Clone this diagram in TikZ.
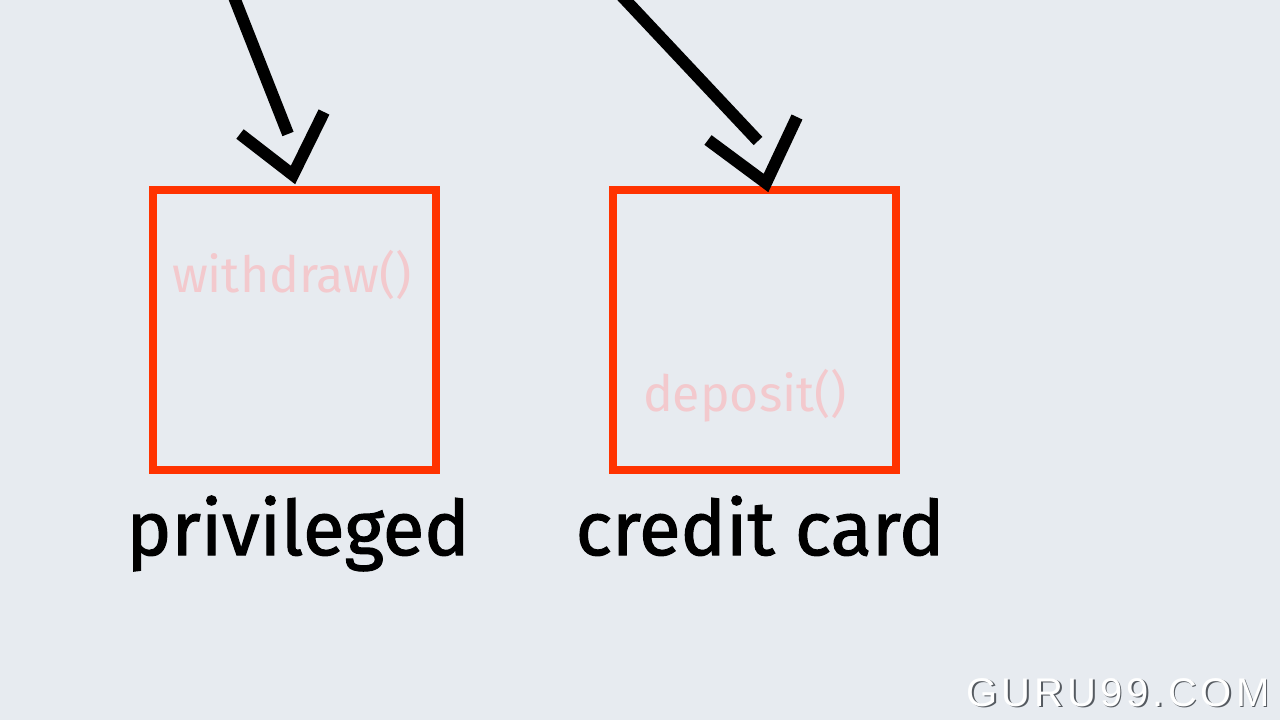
\documentclass[tikz,border=0pt]{standalone}
\usepackage{fontspec}
\setmainfont{Fira Sans}
\newfontfamily\labelfont[FakeBold=1.5]{Fira Sans}
\newfontfamily\methodfont{Fira Sans}
\newfontfamily\wmfont[LetterSpace=10]{Liberation Sans}
\definecolor{bg}{HTML}{E7EBF0}
\definecolor{boxred}{HTML}{FF3300}
\definecolor{faded}{HTML}{F3C9CD}
\definecolor{wmshadow}{HTML}{555A60}
\tikzset{
  classbox/.style={draw=boxred, line width=8pt, minimum width=283pt, minimum height=280pt, inner sep=0pt},
  caption/.style={font=\labelfont\fontsize{76}{84}\selectfont, text=black, inner sep=0pt, anchor=base},
  method/.style={font=\methodfont\fontsize{50}{56}\selectfont, text=faded, inner sep=0pt, anchor=base},
  shaft/.style={line width=12pt, black},
  head/.style={line width=12pt, black, line join=miter},
  wm/.style={font=\wmfont\fontsize{40}{44}\selectfont, inner sep=0pt, anchor=base}
}
\begin{document}
\begin{tikzpicture}[x=1pt,y=-1pt]
\fill[bg] (0,0) rectangle (1280,720);
\useasboundingbox (0,0) rectangle (1280,720);
% boxes
\node[classbox] (priv) at (294,330) {};
\node[classbox] (cc) at (754.5,330) {};
% faded method names
\node[method] (wd) at (292,292) {withdraw()};
\node[method] (dep) at (745,411) {deposit()};
% captions
\node[caption] (privl) at (298,555) {privileged};
\node[caption] (ccl) at (760,555) {credit card};
% arrows
\coordinate (a1s) at (232,-8);
\coordinate (a1e) at (288,134);
\coordinate (h1a) at (240,134);
\coordinate (h1t) at (293,175);
\coordinate (h1b) at (324,112);
\draw[shaft] (a1s) -- (a1e);
\draw[head] (h1a) -- (h1t) -- (h1b);
\coordinate (a2s) at (618,-8);
\coordinate (a2e) at (758,141);
\coordinate (h2a) at (708,140);
\coordinate (h2t) at (766,183);
\coordinate (h2b) at (797,117);
\draw[shaft] (a2s) -- (a2e);
\draw[head] (h2a) -- (h2t) -- (h2b);
% watermark
\node[wm, text=wmshadow] (wms) at (1119.5,707.5) {GURU99.COM};
\node[wm, text=white] (wmt) at (1118,706) {GURU99.COM};
\end{tikzpicture}
\end{document}
